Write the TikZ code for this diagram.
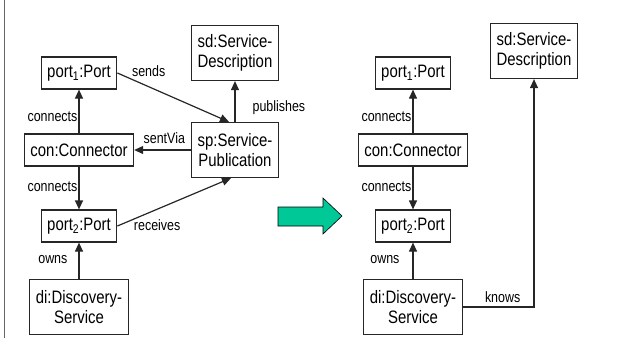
\documentclass[tikz,border=0pt]{standalone}
\usepackage{fontspec}
\setmainfont[FakeStretch=0.83]{Liberation Sans}
\usetikzlibrary{arrows.meta}
\definecolor{arrowgreen}{RGB}{0,200,150}
\tikzset{
	obj/.style={draw=black!85, line width=1.2pt, fill=white, align=center, inner xsep=6pt, minimum height=32pt, font=\fontsize{18}{20}\selectfont},
	objtall/.style={obj, minimum height=55pt},
	rel/.style={draw=black!85, line width=1.2pt, -{Triangle[length=9pt,width=8pt]}},
	lbl/.style={font=\fontsize{15}{17}\selectfont, inner sep=1pt}
}

\begin{document}
\begin{tikzpicture}[x=1pt,y=1pt]
		\useasboundingbox (0,0) rectangle (644,338);
		\draw[black!60, line width=1pt] (4.5,0) -- (4.5,338);

		\node[obj] (p1L) at (79,265) {port\textsubscript{1}:Port};
		\node[obj] (conL) at (79,188) {con:Connector};
		\node[obj] (p2L) at (79,112) {port\textsubscript{2}:Port};
		\node[objtall] (diL) at (79,31) {di:Discovery-\\Service};
		\node[objtall] (sdL) at (235,285) {sd:Service-\\Description};
		\node[objtall] (spL) at (235,188) {sp:Service-\\Publication};

		\draw[rel] (conL) -- (p1L) node[lbl, pos=0.38, left=0pt] {connects};
		\draw[rel] (conL) -- (p2L) node[lbl, pos=0.48, left=0pt] {connects};
		\draw[rel] (diL) -- (p2L) node[lbl, pos=0.52, left=10pt] {owns};
		\draw[rel] (spL) -- (sdL) node[lbl, pos=0.36, right=16pt] {publishes};
		\draw[rel] (spL) -- (conL) node[lbl, pos=0.47, above=5pt] {sentVia};
		\draw[rel] (p1L.east) -- ([xshift=-6pt]spL.north) node[lbl, pos=0.28, above=8pt] {sends};
		\draw[rel] (p2L.east) -- ([xshift=-4pt]spL.south) node[lbl, pos=0.35, below=9pt] {receives};

		\draw[fill=arrowgreen, line width=0.6pt] (278,112) -- (323,112) -- (323,104) -- (342,122) -- (323,140) -- (323,131) -- (278,131) -- cycle;

		\node[obj] (p1R) at (413,265) {port\textsubscript{1}:Port};
		\node[obj] (conR) at (413,188) {con:Connector};
		\node[obj] (p2R) at (413,112) {port\textsubscript{2}:Port};
		\node[objtall] (diR) at (413,31) {di:Discovery-\\Service};
		\node[objtall] (sdR) at (534,287) {sd:Service-\\Description};

		\draw[rel] (conR) -- (p1R) node[lbl, pos=0.38, left=0pt] {connects};
		\draw[rel] (conR) -- (p2R) node[lbl, pos=0.48, left=0pt] {connects};
		\draw[rel] (diR) -- (p2R) node[lbl, pos=0.52, left=12pt] {owns};
		\draw[rel] (diR.east) -| (sdR) node[lbl, pos=0.28, above=3pt] {knows};
\end{tikzpicture}
\end{document}
